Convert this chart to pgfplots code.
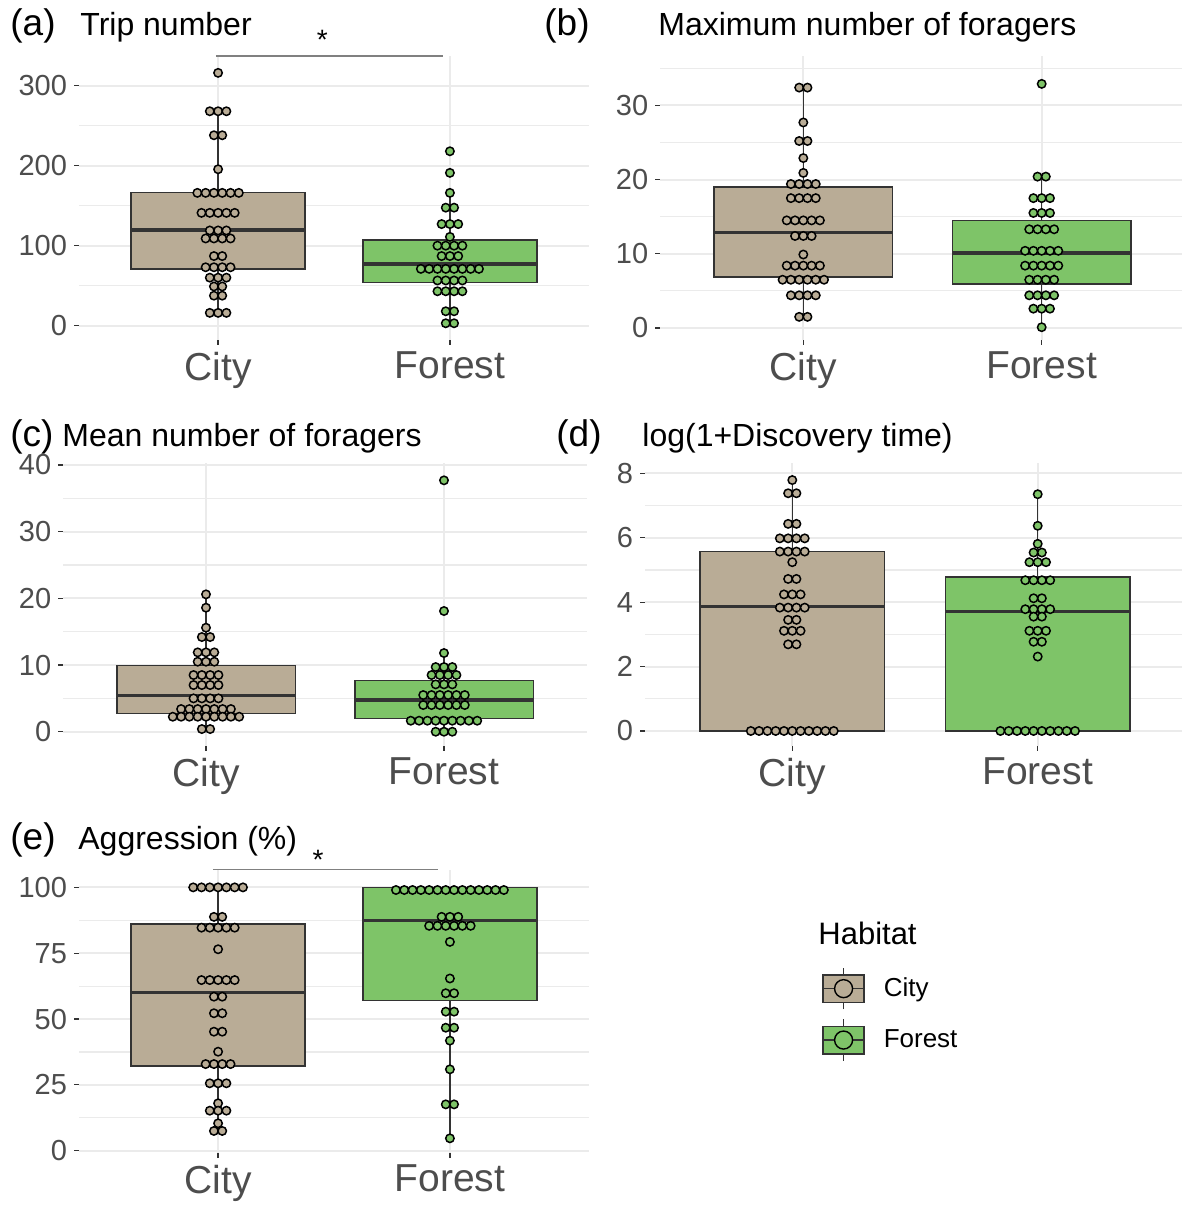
\documentclass[border=0pt]{standalone}
\usepackage{fontspec}
\setmainfont{Liberation Sans}
\usepackage{pgfplots}
\pgfplotsset{compat=1.18}
\usepgfplotslibrary{statistics}

\definecolor{cityc}{HTML}{B9AC96}
\definecolor{forestc}{HTML}{7EC468}
\definecolor{edgec}{HTML}{333333}
\definecolor{gridc}{HTML}{EBEBEB}
\definecolor{tickc}{HTML}{4D4D4D}

\pgfplotsset{
  panel/.style={
    scale only axis, anchor=south west, clip=false,
    xmin=0.4, xmax=2.6, xtick={1,2}, xticklabels={City,Forest},
    axis line style={draw=none},
    tick pos=left, tick align=outside,
    major tick length=2.5pt, minor tick length=0pt,
    tick style={color=edgec, line width=0.6pt},
    xmajorgrids, ymajorgrids, yminorgrids,
    major grid style={color=gridc, line width=1pt},
    minor grid style={color=gridc, line width=0.6pt},
    yticklabel style={font=\fontsize{14.5}{16}\selectfont, text=tickc},
    xticklabel style={font=\fontsize{19.5}{22}\selectfont, text=tickc},
    /pgf/number format/assume math mode=true,
    boxplot/draw direction=y,
    boxplot/every median/.style={line width=1.6pt},
  },
  citybox/.style={fill=cityc, draw=edgec, line width=0.75pt},
  forestbox/.style={fill=forestc, draw=edgec, line width=0.75pt},
  citydots/.style={only marks, mark=*, mark size=2.1pt,
    mark options={fill=cityc, draw=black, line width=0.75pt}},
  forestdots/.style={only marks, mark=*, mark size=2.1pt,
    mark options={fill=forestc, draw=black, line width=0.75pt}},
}
\tikzset{
  ptitle/.style={anchor=base west, inner sep=0pt, font=\fontsize{16}{18}\selectfont},
  ptag/.style={anchor=base west, inner sep=0pt, font=\fontsize{18.5}{20}\selectfont},
}

\begin{document}
\begin{tikzpicture}
\useasboundingbox (0,0) rectangle (591pt,602.5pt);

% (a) trip number
\begin{axis}[panel, at={(39.5pt,432.5pt)}, width=255pt, height=142pt,
  ymin=-17.9, ymax=337.1, ytick={0,100,200,300}, minor ytick={50,150,250}]
\addplot[citybox, boxplot prepared={draw position=1, lower whisker=16, lower quartile=71,
  median=119.6, upper quartile=166.3, upper whisker=268, box extend=0.75, whisker extend=0}]
  coordinates {};
\addplot[forestbox, boxplot prepared={draw position=2, lower whisker=3, lower quartile=54,
  median=77, upper quartile=107, upper whisker=166, box extend=0.75, whisker extend=0}]
  coordinates {};
\addplot[citydots, x filter/.expression={1+0.0358*x}] coordinates {
  (0,316)
  (-1,268) (0,268) (1,268)
  (-0.5,238) (0.5,238)
  (0,195.5)
  (-2.5,166) (-1.5,166) (-0.5,166) (0.5,166) (1.5,166) (2.5,166)
  (-2,141) (-1,141) (0,141) (1,141) (2,141)
  (-1,119) (0,119) (1,119)
  (-1.5,109) (-0.5,109) (0.5,109) (1.5,109)
  (-0.5,87) (0.5,87)
  (-1.5,73) (-0.5,73) (0.5,73) (1.5,73)
  (-1,60) (0,60) (1,60)
  (-0.5,49) (0.5,49)
  (-0.5,37.5) (0.5,37.5)
  (-1,16) (0,16) (1,16)
};
\addplot[forestdots, x filter/.expression={2+0.0358*x}] coordinates {
  (0,218)
  (0,191)
  (0,166)
  (-0.5,147.5) (0.5,147.5)
  (-1,127) (0,127) (1,127)
  (0,111)
  (-1.5,100) (-0.5,100) (0.5,100) (1.5,100)
  (-1,87) (0,87) (1,87)
  (-3.5,71) (-2.5,71) (-1.5,71) (-0.5,71) (0.5,71) (1.5,71) (2.5,71) (3.5,71)
  (-1.5,56.5) (-0.5,56.5) (0.5,56.5) (1.5,56.5)
  (-1.5,43) (-0.5,43) (0.5,43) (1.5,43)
  (-0.5,18) (0.5,18)
  (-0.5,3) (0.5,3)
};
\draw[color=gray, line width=0.6pt] (axis cs:0.99,337.1) -- (axis cs:1.97,337.1);
\node[font=\fontsize{14}{16}\selectfont] at (axis cs:1.45,357) {*};
\end{axis}

% (b) maximum number of foragers
\begin{axis}[panel, at={(330.15pt,432.5pt)}, width=262.2pt, height=142pt,
  ymin=-1.62, ymax=36.66, ytick={0,10,20,30}, minor ytick={5,15,25,35}]
\addplot[citybox, boxplot prepared={draw position=1, lower whisker=1.5, lower quartile=6.9,
  median=12.9, upper quartile=19.0, upper whisker=32.4, box extend=0.75, whisker extend=0}]
  coordinates {};
\addplot[forestbox, boxplot prepared={draw position=2, lower whisker=0, lower quartile=5.9,
  median=10.1, upper quartile=14.5, upper whisker=20.4, box extend=0.75, whisker extend=0}]
  coordinates {};
\addplot[citydots, x filter/.expression={1+0.0348*x}] coordinates {
  (-0.5,32.4) (0.5,32.4)
  (0,27.7)
  (-0.5,25.2) (0.5,25.2)
  (0,22.9)
  (0,20.9)
  (-1.5,19.4) (-0.5,19.4) (0.5,19.4) (1.5,19.4)
  (-1.5,17.5) (-0.5,17.5) (0.5,17.5) (1.5,17.5)
  (-2,14.5) (-1,14.5) (0,14.5) (1,14.5) (2,14.5)
  (-1,12.4) (0,12.4) (1,12.4)
  (0,9.9)
  (-2,8.4) (-1,8.4) (0,8.4) (1,8.4) (2,8.4)
  (-2.5,6.5) (-1.5,6.5) (-0.5,6.5) (0.5,6.5) (1.5,6.5) (2.5,6.5)
  (-1.5,4.4) (-0.5,4.4) (0.5,4.4) (1.5,4.4)
  (-0.5,1.5) (0.5,1.5)
};
\addplot[forestdots, x filter/.expression={2+0.0348*x}] coordinates {
  (0,32.9)
  (-0.5,20.4) (0.5,20.4)
  (-1,17.5) (0,17.5) (1,17.5)
  (-1,15.5) (0,15.5) (1,15.5)
  (-1.5,13.3) (-0.5,13.3) (0.5,13.3) (1.5,13.3)
  (-2,10.4) (-1,10.4) (0,10.4) (1,10.4) (2,10.4)
  (-2,8.4) (-1,8.4) (0,8.4) (1,8.4) (2,8.4)
  (-1.5,6.5) (-0.5,6.5) (0.5,6.5) (1.5,6.5)
  (-1.5,4.4) (-0.5,4.4) (0.5,4.4) (1.5,4.4)
  (-1,2.6) (0,2.6) (1,2.6)
  (0,0.1)
};
\end{axis}

% (c) mean number of foragers
\begin{axis}[panel, at={(31.6pt,229.5pt)}, width=261.8pt, height=141.5pt,
  ymin=-2.14, ymax=40.3, ytick={0,10,20,30,40}, minor ytick={5,15,25,35}]
\addplot[citybox, boxplot prepared={draw position=1, lower whisker=0.4, lower quartile=2.75,
  median=5.4, upper quartile=9.9, upper whisker=20.6, box extend=0.75, whisker extend=0}]
  coordinates {};
\addplot[forestbox, boxplot prepared={draw position=2, lower whisker=0, lower quartile=2.0,
  median=4.75, upper quartile=7.65, upper whisker=11.8, box extend=0.75, whisker extend=0}]
  coordinates {};
\addplot[citydots, x filter/.expression={1+0.0349*x}] coordinates {
  (0,20.6)
  (0,18.6)
  (0,15.6)
  (-0.5,14.2) (0.5,14.2)
  (-1,11.9) (0,11.9) (1,11.9)
  (-1,10.5) (0,10.5) (1,10.5)
  (-1.5,8.5) (-0.5,8.5) (0.5,8.5) (1.5,8.5)
  (-1.5,7.0) (-0.5,7.0) (0.5,7.0) (1.5,7.0)
  (-1.5,5.0) (-0.5,5.0) (0.5,5.0) (1.5,5.0)
  (-3,3.4) (-2,3.4) (-1,3.4) (0,3.4) (1,3.4) (2,3.4) (3,3.4)
  (-4,2.25) (-3,2.25) (-2,2.25) (-1,2.25) (0,2.25) (1,2.25) (2,2.25) (3,2.25) (4,2.25)
  (-0.5,0.4) (0.5,0.4)
};
\addplot[forestdots, x filter/.expression={2+0.0349*x}] coordinates {
  (0,37.7)
  (0,18.1)
  (0,11.8)
  (-1,9.7) (0,9.7) (1,9.7)
  (-1.5,8.5) (-0.5,8.5) (0.5,8.5) (1.5,8.5)
  (-1,7.1) (0,7.1) (1,7.1)
  (-2.5,5.5) (-1.5,5.5) (-0.5,5.5) (0.5,5.5) (1.5,5.5) (2.5,5.5)
  (-2.5,4.0) (-1.5,4.0) (-0.5,4.0) (0.5,4.0) (1.5,4.0) (2.5,4.0)
  (-4,1.65) (-3,1.65) (-2,1.65) (-1,1.65) (0,1.65) (1,1.65) (2,1.65) (3,1.65) (4,1.65)
  (-1,0) (0,0) (1,0)
};
\end{axis}

% (d) log(1+discovery time)
\begin{axis}[panel, at={(322.5pt,229.5pt)}, width=270pt, height=141.5pt,
  ymin=-0.466, ymax=8.32, ytick={0,2,4,6,8}, minor ytick={1,3,5,7}]
\addplot[citybox, boxplot prepared={draw position=1, lower whisker=0, lower quartile=0,
  median=3.86, upper quartile=5.57, upper whisker=7.79, box extend=0.75, whisker extend=0}]
  coordinates {};
\addplot[forestbox, boxplot prepared={draw position=2, lower whisker=0, lower quartile=0,
  median=3.70, upper quartile=4.78, upper whisker=7.35, box extend=0.75, whisker extend=0}]
  coordinates {};
\addplot[citydots, x filter/.expression={1+0.0338*x}] coordinates {
  (0,7.79)
  (-0.5,7.38) (0.5,7.38)
  (-0.5,6.43) (0.5,6.43)
  (-1.5,5.98) (-0.5,5.98) (0.5,5.98) (1.5,5.98)
  (-1.5,5.57) (-0.5,5.57) (0.5,5.57) (1.5,5.57)
  (0,5.24)
  (-0.5,4.72) (0.5,4.72)
  (-1,4.24) (0,4.24) (1,4.24)
  (-1.5,3.83) (-0.5,3.83) (0.5,3.83) (1.5,3.83)
  (-0.5,3.45) (0.5,3.45)
  (-1,3.11) (0,3.11) (1,3.11)
  (-0.5,2.69) (0.5,2.69)
  (-5,0) (-4,0) (-3,0) (-2,0) (-1,0) (0,0) (1,0) (2,0) (3,0) (4,0) (5,0)
};
\addplot[forestdots, x filter/.expression={2+0.0338*x}] coordinates {
  (0,7.35)
  (0,6.37)
  (0,5.81)
  (-0.5,5.54) (0.5,5.54)
  (-1,5.24) (0,5.24) (1,5.24)
  (-1.5,4.68) (-0.5,4.68) (0.5,4.68) (1.5,4.68)
  (-0.5,4.12) (0.5,4.12)
  (-1.5,3.78) (-0.5,3.78) (0.5,3.78) (1.5,3.78)
  (-0.5,3.55) (0.5,3.55)
  (-1,3.11) (0,3.11) (1,3.11)
  (-0.5,2.77) (0.5,2.77)
  (0,2.31)
  (-4.5,0) (-3.5,0) (-2.5,0) (-1.5,0) (-0.5,0) (0.5,0) (1.5,0) (2.5,0) (3.5,0) (4.5,0)
};
\end{axis}

% (e) aggression
\begin{axis}[panel, at={(39.5pt,26pt)}, width=255pt, height=141.5pt,
  ymin=-0.87, ymax=106.6, ytick={0,25,50,75,100}, minor ytick={12.5,37.5,62.5,87.5}]
\addplot[citybox, boxplot prepared={draw position=1, lower whisker=7.5, lower quartile=32.2,
  median=60.0, upper quartile=86.1, upper whisker=100, box extend=0.75, whisker extend=0}]
  coordinates {};
\addplot[forestbox, boxplot prepared={draw position=2, lower whisker=4.7, lower quartile=57,
  median=87.3, upper quartile=100, upper whisker=100, box extend=0.75, whisker extend=0}]
  coordinates {};
\addplot[citydots, x filter/.expression={1+0.0358*x}] coordinates {
  (-3,100) (-2,100) (-1,100) (0,100) (1,100) (2,100) (3,100)
  (-0.5,88.8) (0.5,88.8)
  (-2,84.7) (-1,84.7) (0,84.7) (1,84.7) (2,84.7)
  (0,76.5)
  (-2,64.8) (-1,64.8) (0,64.8) (1,64.8) (2,64.8)
  (-0.5,58.5) (0.5,58.5)
  (-0.5,52.2) (0.5,52.2)
  (-0.5,45.2) (0.5,45.2)
  (0,37.6)
  (-1.5,32.9) (-0.5,32.9) (0.5,32.9) (1.5,32.9)
  (-1,25.6) (0,25.6) (1,25.6)
  (0,18.0)
  (-1,15.2) (0,15.2) (1,15.2)
  (0,10.4)
  (-0.5,7.5) (0.5,7.5)
};
\addplot[forestdots, x filter/.expression={2+0.0358*x}] coordinates {
  (-6.5,99) (-5.5,99) (-4.5,99) (-3.5,99) (-2.5,99) (-1.5,99) (-0.5,99)
  (0.5,99) (1.5,99) (2.5,99) (3.5,99) (4.5,99) (5.5,99) (6.5,99)
  (-1,88.8) (0,88.8) (1,88.8)
  (-2.5,85.4) (-1.5,85.4) (-0.5,85.4) (0.5,85.4) (1.5,85.4) (2.5,85.4)
  (0,79.3)
  (0,65.4)
  (-0.5,59.8) (0.5,59.8)
  (-0.5,52.8) (0.5,52.8)
  (-0.5,46.7) (0.5,46.7)
  (0,41.8)
  (0,30.9)
  (-0.5,17.6) (0.5,17.6)
  (0,4.7)
};
\draw[color=gray, line width=0.6pt] (axis cs:0.978,106.8) -- (axis cs:1.949,106.8);
\node[font=\fontsize{14}{16}\selectfont] at (axis cs:1.431,110.5) {*};
\end{axis}

% legend
\begin{axis}[at={(409pt,72.5pt)}, anchor=south west, scale only axis,
  width=71pt, height=70pt, hide axis, xmin=0, xmax=1, ymin=0, ymax=1,
  legend style={at={(0.028,0.666)}, anchor=north west, draw=none, fill=none,
    inner sep=0pt, row sep=4.2pt, font=\fontsize{13}{15}\selectfont,
    /tikz/every odd column/.append style={column sep=7.5pt}},
  legend cell align=left]
\addlegendimage{legend image code/.code={
  \draw[draw=edgec, line width=0.7pt] (10.25pt,-10.4pt) -- (10.25pt,10.4pt);
  \draw[draw=edgec, fill=cityc, line width=0.7pt] (0pt,-6.9pt) rectangle (20.5pt,6.9pt);
  \draw[draw=edgec, line width=0.7pt] (0pt,0pt) -- (20.5pt,0pt);
  \draw[draw=black, fill=cityc, line width=0.7pt] (10.25pt,0pt) circle (4.5pt);}}
\addlegendentry{City}
\addlegendimage{legend image code/.code={
  \draw[draw=edgec, line width=0.7pt] (10.25pt,-10.4pt) -- (10.25pt,10.4pt);
  \draw[draw=edgec, fill=forestc, line width=0.7pt] (0pt,-6.9pt) rectangle (20.5pt,6.9pt);
  \draw[draw=edgec, line width=0.7pt] (0pt,0pt) -- (20.5pt,0pt);
  \draw[draw=black, fill=forestc, line width=0.7pt] (10.25pt,0pt) circle (4.5pt);}}
\addlegendentry{Forest}
\end{axis}

% titles and panel tags
\node[ptag] at (5pt,584.5pt) {(a)};
\node[ptitle] at (40pt,584.5pt) {Trip number};
\node[ptag] at (272pt,584.5pt) {(b)};
\node[ptitle] at (329pt,584.5pt) {Maximum number of foragers};
\node[ptag] at (5pt,379.2pt) {(c)};
\node[ptitle] at (31pt,379.2pt) {Mean number of foragers};
\node[ptag] at (278pt,379.2pt) {(d)};
\node[ptitle] at (321pt,379.2pt) {log(1+Discovery time)};
\node[ptag] at (5pt,177.5pt) {(e)};
\node[ptitle] at (39pt,177.5pt) {Aggression (\%)};
\node[anchor=base west, inner sep=0pt, font=\fontsize{15.5}{18}\selectfont] at (409pt,130pt) {Habitat};
\end{tikzpicture}
\end{document}
